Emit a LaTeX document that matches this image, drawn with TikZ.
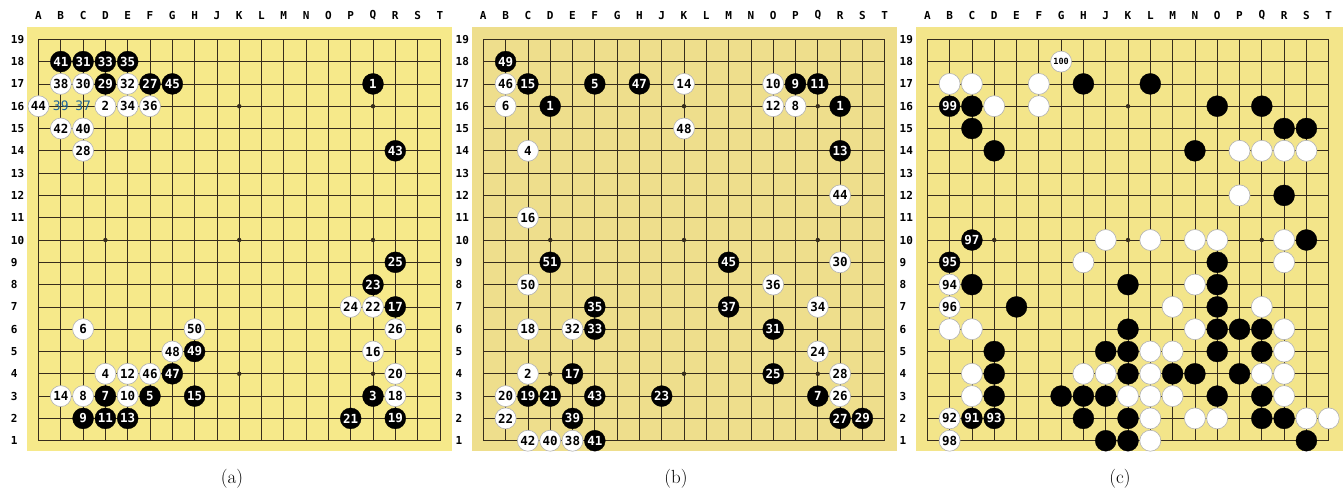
\documentclass[tikz,border=0pt]{standalone}
\usepackage{fontspec}
\newfontfamily\gomono{DejaVu Sans Mono}
\definecolor{boardA}{RGB}{246,233,138}
\definecolor{boardB}{RGB}{238,222,140}
\definecolor{boardC}{RGB}{243,229,138}
\definecolor{gridc}{RGB}{55,45,28}
\definecolor{bluenum}{RGB}{30,100,155}
\def\colA{0}\def\colB{1}\def\colC{2}\def\colD{3}\def\colE{4}\def\colF{5}\def\colG{6}
\def\colH{7}\def\colJ{8}\def\colK{9}\def\colL{10}\def\colM{11}\def\colN{12}\def\colO{13}
\def\colP{14}\def\colQ{15}\def\colR{16}\def\colS{17}\def\colT{18}
\tikzset{
  gridline/.style={draw=gridc, line width=0.75pt},
  stonebase/.style={circle, inner sep=0pt, minimum size=21pt, font=\gomono\bfseries\fontsize{12.5}{12.5}\selectfont},
  bstone/.style={stonebase, fill=black, draw=black, line width=0.3pt, text=white},
  wstone/.style={stonebase, fill=white, draw=black!30, line width=0.6pt, text=black},
  bluenumber/.style={inner sep=0pt, text=bluenum, font=\gomono\fontsize{13}{13}\selectfont},
  collabel/.style={inner sep=0pt, font=\gomono\bfseries\fontsize{11}{11}\selectfont},
  rowlabel/.style={inner sep=0pt, anchor=west, font=\gomono\bfseries\fontsize{11}{11}\selectfont},
  caption/.style={inner sep=0pt, font=\fontsize{19}{19}\selectfont}
}
% #1 prefix, #2 x of column A, #3 colour, #4 right edge of board
\newcommand\goboard[4]{%
  \fill[#3] ({#2-11.2},27.3) rectangle (#4,450.7);
  \foreach \i in {0,...,18} {
    \draw[gridline] ({#2+\i*22.3},39.3) -- ({#2+\i*22.3},440.7);
    \draw[gridline] (#2,{39.3+\i*22.3}) -- ({#2+401.4},{39.3+\i*22.3});
  }
  \foreach \i in {3,9,15} \foreach \j in {3,9,15}
    \fill[gridc] ({#2+\i*22.3},{39.3+\j*22.3}) circle (2.2pt);
  \foreach \L [count=\i from 0] in {A,B,C,D,E,F,G,H,J,K,L,M,N,O,P,Q,R,S,T}
    \node[collabel] (#1-col\L) at ({#2+\i*22.3},15.5) {\L};
  \foreach \rr in {1,...,19}
    \node[rowlabel] (#1-row\rr) at ({#2-27.8},{39.3+(19-\rr)*22.3}) {\rr};
}
\newcommand\gostones[4]{%
  \foreach \cc/\rr/\nn in {#4} {
    \pgfmathsetmacro\xx{#2+\csname col\cc\endcsname*22.3}
    \pgfmathsetmacro\yy{39.3+(19-\rr)*22.3}
    \node[#3] (#1-\cc\rr) at (\xx,\yy) {\nn};
  }
}
\newcommand\goplain[4]{%
  \foreach \cc/\rr in {#4} {
    \pgfmathsetmacro\xx{#2+\csname col\cc\endcsname*22.3}
    \pgfmathsetmacro\yy{39.3+(19-\rr)*22.3}
    \node[#3] (#1-\cc\rr) at (\xx,\yy) {};
  }
}
\begin{document}
\begin{tikzpicture}[x=1pt,y=-1pt]
\useasboundingbox (0,0) rectangle (1343,493);
\fill[white] (0,0) rectangle (1343,493);
% ---------- board (a)
\goboard{a}{38.5}{boardA}{451.5}
\gostones{a}{38.5}{bstone}{B/18/41,C/18/31,D/18/33,E/18/35,D/17/29,F/17/27,G/17/45,Q/17/1,R/14/43,R/9/25,Q/8/23,R/7/17,H/5/49,G/4/47,D/3/7,F/3/5,H/3/15,Q/3/3,C/2/9,D/2/11,E/2/13,P/2/21,R/2/19}
\gostones{a}{38.5}{wstone}{B/17/38,C/17/30,E/17/32,A/16/44,D/16/2,E/16/34,F/16/36,B/15/42,C/15/40,C/14/28,P/7/24,Q/7/22,C/6/6,H/6/50,R/6/26,G/5/48,Q/5/16,D/4/4,E/4/12,F/4/46,R/4/20,B/3/14,C/3/8,E/3/10,R/3/18}
\gostones{a}{38.5}{bluenumber}{B/16/39,C/16/37}
% ---------- board (b)
\goboard{b}{483.3}{boardB}{896.5}
\gostones{b}{483.3}{bstone}{B/18/49,C/17/15,F/17/5,H/17/47,P/17/9,Q/17/11,D/16/1,R/16/1,R/14/13,D/9/51,M/9/45,F/7/35,M/7/37,F/6/33,O/6/31,E/4/17,O/4/25,C/3/19,D/3/21,F/3/43,J/3/23,Q/3/7,E/2/39,R/2/27,S/2/29,F/1/41}
\gostones{b}{483.3}{wstone}{B/17/46,K/17/14,O/17/10,B/16/6,O/16/12,P/16/8,K/15/48,C/14/4,R/12/44,C/11/16,R/9/30,C/8/50,O/8/36,Q/7/34,C/6/18,E/6/32,Q/5/24,C/4/2,R/4/28,B/3/20,R/3/26,B/2/22,C/1/42,D/1/40,E/1/38}
% ---------- board (c)
\goboard{c}{927.3}{boardC}{1343}
\gostones{c}{927.3}{bstone}{B/16/99,C/10/97,B/9/95,C/2/91,D/2/93}
\gostones{c}{927.3}{wstone}{B/8/94,B/7/96,B/2/92,B/1/98}
\node[wstone, font=\gomono\bfseries\fontsize{8.5}{8.5}\selectfont] (c-G18) at ({927.3+6*22.3},{39.3+22.3}) {100};
\goplain{c}{927.3}{bstone}{H/17,L/17,C/16,O/16,Q/16,C/15,R/15,S/15,D/14,N/14,R/12,S/10,O/9,C/8,K/8,O/8,E/7,O/7,K/6,O/6,P/6,Q/6,D/5,J/5,K/5,O/5,Q/5,D/4,K/4,M/4,N/4,P/4,D/3,G/3,H/3,J/3,O/3,Q/3,H/2,K/2,Q/2,R/2,J/1,K/1,S/1}
\goplain{c}{927.3}{wstone}{B/17,C/17,F/17,D/16,F/16,P/14,Q/14,R/14,S/14,P/12,J/10,L/10,N/10,O/10,R/10,H/9,R/9,N/8,M/7,Q/7,B/6,C/6,N/6,R/6,L/5,M/5,R/5,C/4,H/4,J/4,L/4,Q/4,R/4,C/3,K/3,L/3,M/3,R/3,L/2,N/2,O/2,S/2,T/2,L/1}
% ---------- captions
\node[caption] (capa) at (232,479) {(a)};
\node[caption] (capb) at (676,479) {(b)};
\node[caption] (capc) at (1120,479) {(c)};
\end{tikzpicture}
\end{document}
